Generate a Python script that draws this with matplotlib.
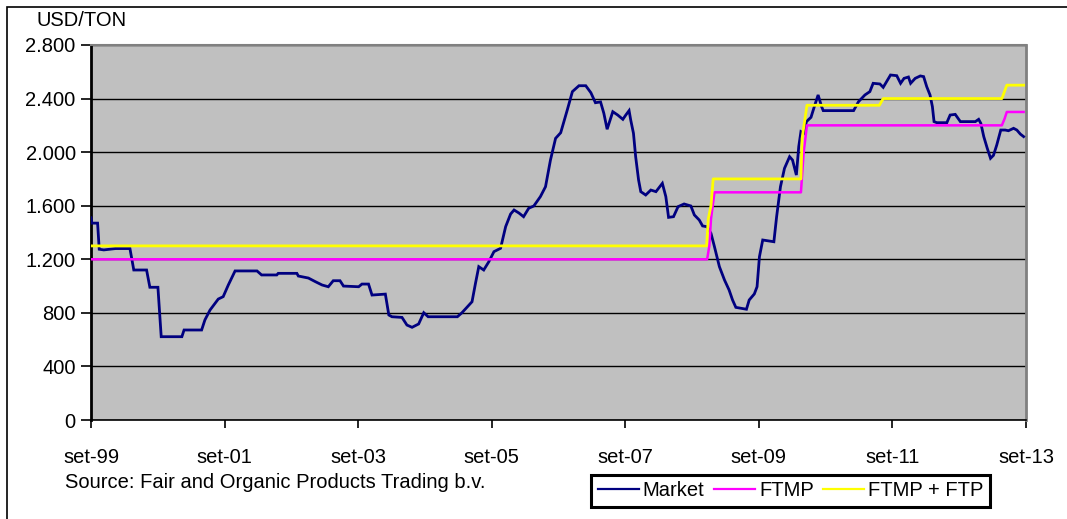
import pandas as pd
import numpy as np
import matplotlib.pyplot as plt
from matplotlib.patches import Rectangle
from matplotlib.lines import Line2D

plt.rcParams['font.family'] = ['Liberation Sans', 'DejaVu Sans']

# Market price (USD/ton)
market_dates = [
    "1999-09-01", "1999-09-06", "1999-10-07", "1999-10-16", "1999-11-10", "2000-01-13",
    "2000-04-01", "2000-04-22", "2000-07-01", "2000-07-19", "2000-09-01", "2000-09-19",
    "2001-01-10", "2001-01-22", "2001-04-28", "2001-05-16", "2001-06-13", "2001-07-28",
    "2001-08-24", "2001-09-21", "2001-10-28", "2002-02-25", "2002-03-22", "2002-06-13",
    "2002-06-21", "2002-10-01", "2002-10-09", "2002-12-03", "2003-01-10", "2003-02-16",
    "2003-03-22", "2003-04-18", "2003-05-25", "2003-06-13", "2003-09-04", "2003-09-22",
    "2003-10-28", "2003-11-16", "2004-01-28", "2004-02-16", "2004-03-04", "2004-04-28",
    "2004-05-25", "2004-06-22", "2004-07-28", "2004-08-25", "2004-09-18", "2005-02-25",
    "2005-03-22", "2005-05-16", "2005-06-04", "2005-06-22", "2005-07-19", "2005-08-16",
    "2005-09-13", "2005-10-19", "2005-11-16", "2005-12-13", "2006-01-01", "2006-01-28",
    "2006-02-22", "2006-03-22", "2006-04-19", "2006-05-25", "2006-06-22", "2006-07-19",
    "2006-08-16", "2006-09-13", "2006-10-19", "2006-11-16", "2006-12-22", "2007-01-28",
    "2007-02-25", "2007-03-22", "2007-04-19", "2007-05-07", "2007-05-25", "2007-06-25",
    "2007-07-22", "2007-08-19", "2007-09-04", "2007-09-22", "2007-10-01", "2007-10-16",
    "2007-10-28", "2007-11-13", "2007-11-25", "2007-12-22", "2008-01-19", "2008-02-16",
    "2008-03-22", "2008-04-10", "2008-04-25", "2008-05-22", "2008-06-16", "2008-07-19",
    "2008-08-25", "2008-09-13", "2008-10-10", "2008-10-28", "2008-11-22", "2008-12-13",
    "2009-01-01", "2009-01-28", "2009-02-25", "2009-03-22", "2009-04-10", "2009-04-28",
    "2009-06-25", "2009-07-10", "2009-08-07", "2009-08-22", "2009-09-04", "2009-09-22",
    "2009-11-22", "2009-12-07", "2009-12-28", "2010-01-19", "2010-02-16", "2010-03-04",
    "2010-03-25", "2010-04-07", "2010-04-19", "2010-05-04", "2010-05-19", "2010-06-13",
    "2010-07-04", "2010-07-22", "2010-08-10", "2010-08-19", "2011-02-01", "2011-02-28",
    "2011-04-04", "2011-05-01", "2011-05-19", "2011-06-25", "2011-07-13", "2011-08-01",
    "2011-08-22", "2011-09-25", "2011-10-16", "2011-11-04", "2011-11-28", "2011-12-10",
    "2012-01-04", "2012-02-01", "2012-02-19", "2012-03-07", "2012-03-25", "2012-04-07",
    "2012-04-16", "2012-05-01", "2012-06-25", "2012-07-13", "2012-08-10", "2012-09-07",
    "2012-11-28", "2012-12-16", "2012-12-28", "2013-01-13", "2013-02-01", "2013-02-19",
    "2013-03-07", "2013-03-25", "2013-04-16", "2013-05-10", "2013-05-28", "2013-06-25",
    "2013-07-13", "2013-08-01", "2013-08-19",
]
market_values = [
    1510, 1470, 1470, 1275, 1270, 1280,
    1280, 1120, 1120, 991, 991, 622,
    622, 672, 672, 747, 821, 903,
    921, 1008, 1113, 1113, 1083, 1083,
    1095, 1095, 1075, 1060, 1033, 1008,
    995, 1040, 1040, 1000, 995, 1015,
    1015, 933, 940, 784, 771, 766,
    709, 692, 717, 801, 771, 771,
    801, 883, 1021, 1145, 1120, 1182,
    1257, 1282, 1444, 1538, 1568, 1545,
    1518, 1581, 1598, 1668, 1742, 1941,
    2103, 2145, 2315, 2452, 2496, 2496,
    2444, 2369, 2375, 2290, 2171, 2302,
    2277, 2245, 2277, 2310, 2240, 2141,
    1966, 1792, 1705, 1680, 1717, 1705,
    1767, 1668, 1513, 1518, 1593, 1613,
    1598, 1531, 1493, 1449, 1443, 1394,
    1294, 1145, 1045, 971, 896, 841,
    827, 896, 941, 995, 1219, 1344,
    1331, 1518, 1742, 1879, 1966, 1941,
    1829, 2041, 2153, 2141, 2228, 2260,
    2352, 2427, 2340, 2310, 2310, 2377,
    2427, 2452, 2514, 2509, 2484, 2527,
    2576, 2571, 2514, 2551, 2561, 2514,
    2551, 2569, 2564, 2489, 2427, 2340,
    2228, 2220, 2220, 2277, 2282, 2228,
    2228, 2245, 2215, 2116, 2029, 1954,
    1976, 2053, 2165, 2165, 2160, 2178,
    2165, 2135, 2116,
]

# Fairtrade minimum price
ftmp_dates = ["1999-09-01", "2008-11-22", "2008-12-04", "2008-12-13", "2009-01-01",
              "2010-04-19", "2010-05-04", "2010-05-22", "2013-04-22", "2013-05-07",
              "2013-05-19", "2013-08-19"]
ftmp_values = [1200, 1200, 1300, 1500, 1700,
               1700, 2000, 2200, 2200, 2250,
               2300, 2300]

# Fairtrade minimum price + Fairtrade premium
ftp_dates = ["1999-09-01", "2008-11-19", "2008-11-28", "2008-12-13", "2008-12-25",
             "2010-04-19", "2010-04-25", "2010-05-22", "2011-06-22", "2011-07-13",
             "2013-04-22", "2013-05-19", "2013-08-19"]
ftp_values = [1300, 1300, 1500, 1600, 1800,
              1800, 2100, 2350, 2350, 2400,
              2400, 2500, 2500]

x_ticks = ["1999-09-01", "2001-09-01", "2003-09-01", "2005-09-01",
           "2007-09-01", "2009-09-01", "2011-09-01", "2013-09-01"]
x_labels = ["set-99", "set-01", "set-03", "set-05", "set-07", "set-09", "set-11", "set-13"]
y_ticks = [0, 400, 800, 1200, 1600, 2000, 2400, 2800]
y_labels = ["0", "400", "800", "1.200", "1.600", "2.000", "2.400", "2.800"]

W, H = 1067, 519
fig = plt.figure(figsize=(W / 100, H / 100), dpi=100)
fig.patch.set_facecolor("white")

# outer chart frame (only left and top edges fall inside the image)
fig.patches.append(Rectangle((6.5 / W, -0.05), 1.2, 1.05 - 6.5 / H, transform=fig.transFigure,
                             fill=False, edgecolor="black", linewidth=1.2))

left, right, top, bottom = 91, 1026, 45, 420
ax = fig.add_axes([left / W, 1 - bottom / H, (right - left) / W, (bottom - top) / H])
ax.set_facecolor("#C0C0C0")

ax.plot(pd.to_datetime(market_dates), market_values, color="#000080", linewidth=2.0,
        solid_joinstyle="miter", zorder=3)
ax.plot(pd.to_datetime(ftmp_dates), ftmp_values, color="#FF00FF", linewidth=1.8, zorder=4)
ax.plot(pd.to_datetime(ftp_dates), ftp_values, color="#FFFF00", linewidth=2.0, zorder=5)

ax.set_xlim(pd.Timestamp("1999-09-01"), pd.Timestamp("2013-09-01"))
ax.set_ylim(0, 2800)
ax.set_yticks(y_ticks)
ax.set_yticklabels(y_labels, fontsize=14.5)
ax.set_xticks(pd.to_datetime(x_ticks))
ax.set_xticklabels(x_labels, fontsize=14.5)
ax.tick_params(axis="y", direction="out", length=7, width=1.2, pad=4, colors="black")
ax.tick_params(axis="x", direction="out", length=6, width=1.2, pad=14, colors="black")

ax.grid(axis="y", color="black", linewidth=1.0)
ax.set_axisbelow(True)
ax.spines["left"].set_linewidth(2)
ax.spines["bottom"].set_linewidth(1.2)
ax.spines["top"].set_color("#808080")
ax.spines["right"].set_color("#808080")
ax.spines["top"].set_linewidth(1.5)
ax.spines["right"].set_linewidth(2)

fig.text(36 / W, 1 - 21 / H, "USD/TON", fontsize=14.5, va="center", ha="left")
fig.text(65 / W, 1 - 483 / H, "Source: Fair and Organic Products Trading b.v.",
         fontsize=14.5, va="center", ha="left")

handles = [Line2D([], [], color="#000080", linewidth=1.6),
           Line2D([], [], color="#FF00FF", linewidth=1.6),
           Line2D([], [], color="#FFFF00", linewidth=1.6)]
leg = fig.legend(handles, ["Market", "FTMP", "FTMP + FTP"], ncol=3,
                 loc="center", bbox_to_anchor=(790.5 / W, 1 - 491 / H),
                 fontsize=14.5, frameon=True, fancybox=False, framealpha=1,
                 edgecolor="black", handlelength=2.05, handletextpad=0.2,
                 columnspacing=0.45, borderpad=0.3, borderaxespad=0)
leg.get_frame().set_linewidth(2.2)

plt.savefig("out.png", dpi=100)
